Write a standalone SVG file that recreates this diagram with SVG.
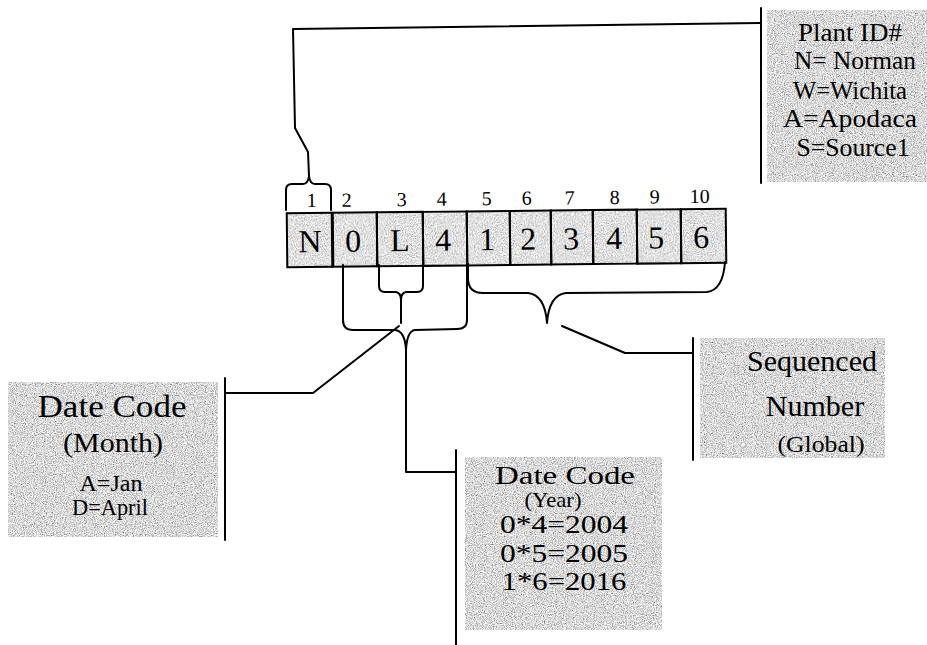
<svg xmlns="http://www.w3.org/2000/svg" width="927" height="645" viewBox="0 0 927 645">
<defs>
<filter id="grain" x="0" y="0" width="1" height="1">
<feTurbulence type="fractalNoise" baseFrequency="0.9" numOctaves="2" seed="4"/>
<feColorMatrix type="matrix" values="1.5 0 0 0 -0.05  1.5 0 0 0 -0.05  1.5 0 0 0 -0.05  0 0 0 0 1"/>
</filter>
<filter id="grainL" x="0" y="0" width="1" height="1">
<feTurbulence type="fractalNoise" baseFrequency="0.9" numOctaves="2" seed="9"/>
<feColorMatrix type="matrix" values="1.4 0 0 0 0.05  1.4 0 0 0 0.05  1.4 0 0 0 0.05  0 0 0 0 1"/>
</filter>
</defs>
<style>
.box{fill:#b8b8b8;filter:url(#grain)}
.cell{fill:#c8c8c8;filter:url(#grainL)}
.cb{fill:none;stroke:#000;stroke-width:2}
.t{font-family:'Liberation Serif','Times New Roman',serif;fill:#000;text-anchor:middle}
.ln{fill:none;stroke:#000;stroke-width:2;stroke-linejoin:round;stroke-linecap:round}
</style>
<rect width="927" height="645" fill="#fff"/>
<g id="code" transform="rotate(-0.6 506 237)">
<rect class="cell" x="287" y="211" width="439" height="54"/>
<rect class="cb" x="287" y="211" width="45" height="54"/>
<rect class="cb" x="333" y="211" width="44" height="54"/>
<rect class="cb" x="377" y="211" width="46" height="54"/>
<rect class="cb" x="423" y="211" width="44" height="54"/>
<rect class="cb" x="467" y="211" width="43" height="54"/>
<rect class="cb" x="510" y="211" width="41" height="54"/>
<rect class="cb" x="551" y="211" width="42" height="54"/>
<rect class="cb" x="593" y="211" width="44" height="54"/>
<rect class="cb" x="637" y="211" width="44" height="54"/>
<rect class="cb" x="681" y="211" width="45" height="54"/>
<g class="t" font-family="Liberation Serif, serif" font-size="32">
<text x="310" y="250">N</text><text x="353" y="250">0</text><text x="400" y="250">L</text><text x="443" y="250">4</text><text x="487" y="250">1</text><text x="528" y="250">2</text><text x="571" y="250">3</text><text x="614" y="250">4</text><text x="656" y="250">5</text><text x="701" y="250">6</text>
</g>
<g class="t" font-family="Liberation Serif, serif" font-size="20">
<text x="312" y="205">1</text><text x="347" y="205">2</text><text x="402" y="205">3</text><text x="442" y="205">4</text><text x="487" y="205">5</text><text x="527" y="205">6</text><text x="570" y="205">7</text><text x="615" y="205">8</text><text x="655" y="205">9</text><text x="700" y="205">10</text>
</g>
</g>
<g id="connectors">
<path class="ln" d="M286,210 L286,190 Q286,184 292,184 L303,184 Q308,184 309,176 Q310,184 315,184 L325,184 Q331,184 331,190 L331,210"/>
<path class="ln" d="M309,176 L308,152 L295,128 L293,29 L760,23"/>
<path class="ln" d="M761,8 L761,183"/>
<path class="ln" d="M343,265 L343,320 Q343,330 353,330 L395,330 Q405,331 406,350 L406,472 L456,472"/>
<path class="ln" d="M467,264 L467,320 Q467,329 457,329 L415,330 Q407,331 406,350"/>
<path class="ln" d="M379,265 L379,286 Q379,292 385,292 L396,292 Q401,293 401,300 L401,323"/>
<path class="ln" d="M423,265 L423,286 Q423,292 417,292 L406,292 Q401,293 401,300"/>
<path class="ln" d="M399,326 L313,393 L225,393"/>
<path class="ln" d="M225,378 L225,540"/>
<path class="ln" d="M456,450 L456,645"/>
<path class="ln" d="M468,264 L468,278 Q468,293 483,293 L528,293 Q545,295 547,323 Q549,295 566,293 L707,292 Q723,290 725,262"/>
<path class="ln" d="M562,326 L625,353 L692,353"/>
<path class="ln" d="M693,338 L693,460"/>
</g>
<g id="plant">
<rect class="box" x="767" y="10" width="160" height="172"/>
<g class="t" font-family="Liberation Serif, serif" font-size="25">
<text x="850" y="41" textLength="104" lengthAdjust="spacingAndGlyphs">Plant ID#</text>
<text x="855" y="69" textLength="122" lengthAdjust="spacingAndGlyphs">N= Norman</text>
<text x="850" y="99" textLength="114" lengthAdjust="spacingAndGlyphs">W=Wichita</text>
<text x="850" y="127" textLength="134" lengthAdjust="spacingAndGlyphs">A=Apodaca</text>
<text x="853" y="156" textLength="113" lengthAdjust="spacingAndGlyphs">S=Source1</text>
</g>
</g>
<g id="month">
<rect class="box" x="8" y="382" width="210" height="155"/>
<g class="t" font-family="Liberation Serif, serif">
<text x="112" y="417" font-size="31" textLength="149" lengthAdjust="spacingAndGlyphs">Date Code</text>
<text x="113" y="452" font-size="27" textLength="100" lengthAdjust="spacingAndGlyphs">(Month)</text>
<text x="111" y="491" font-size="23" textLength="63" lengthAdjust="spacingAndGlyphs">A=Jan</text>
<text x="110" y="515" font-size="23" textLength="76" lengthAdjust="spacingAndGlyphs">D=April</text>
</g>
</g>
<g id="year">
<rect class="box" x="465" y="457" width="197" height="173"/>
<g class="t" font-family="Liberation Serif, serif">
<text x="565" y="484" font-size="26" textLength="140" lengthAdjust="spacingAndGlyphs">Date Code</text>
<text x="553" y="507" font-size="21" textLength="57" lengthAdjust="spacingAndGlyphs">(Year)</text>
<text x="564" y="533" font-size="25" textLength="128" lengthAdjust="spacingAndGlyphs">0*4=2004</text>
<text x="564" y="562" font-size="25" textLength="128" lengthAdjust="spacingAndGlyphs">0*5=2005</text>
<text x="564" y="590" font-size="25" textLength="125" lengthAdjust="spacingAndGlyphs">1*6=2016</text>
</g>
</g>
<g id="sequenced">
<rect class="box" x="700" y="338" width="185" height="120"/>
<g class="t" font-family="Liberation Serif, serif">
<text x="812" y="371" font-size="30">Sequenced</text>
<text x="815" y="416" font-size="30">Number</text>
<text x="821" y="452" font-size="24" textLength="87" lengthAdjust="spacingAndGlyphs">(Global)</text>
</g>
</g>
</svg>
